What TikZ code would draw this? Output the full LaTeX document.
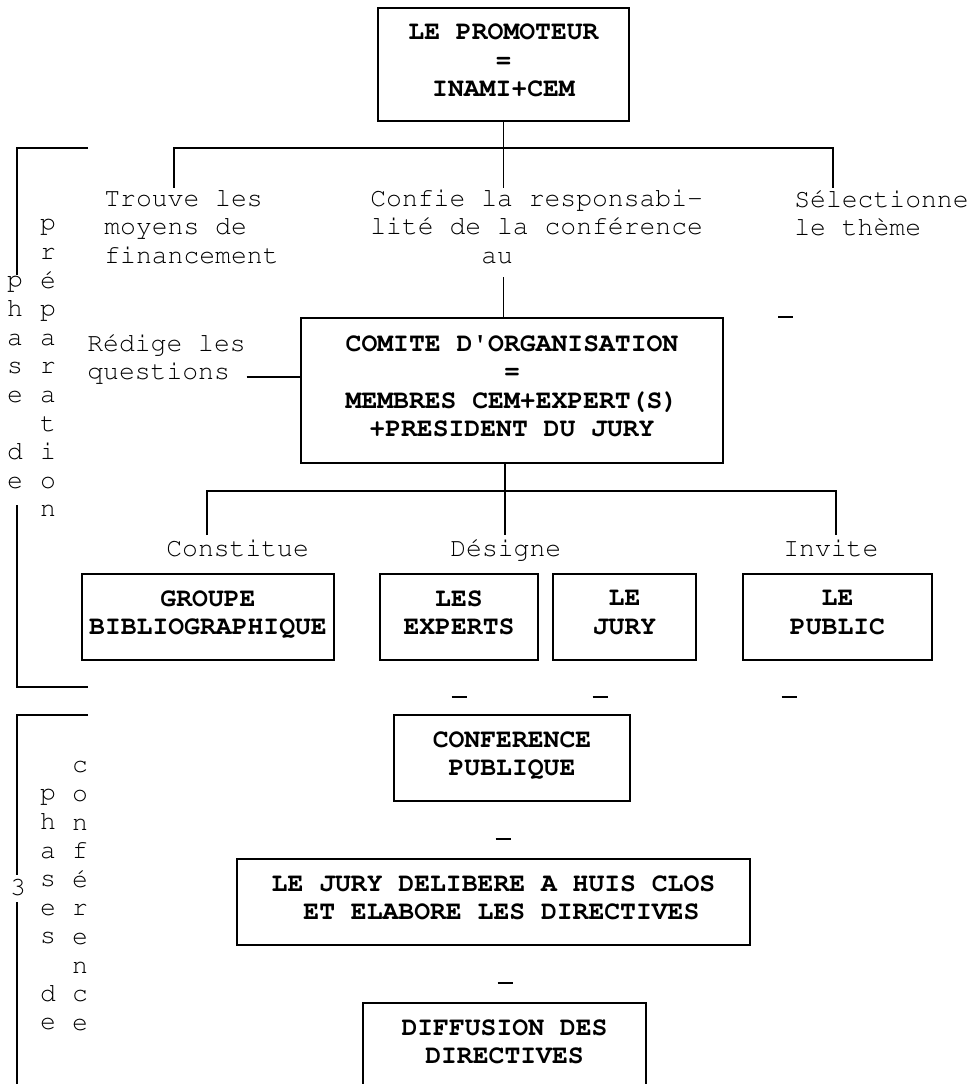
\documentclass[tikz,border=0pt]{standalone}
\usepackage[T1]{fontenc}
\usepackage{courier}
\newcommand{\machine}{\ttfamily\fontsize{19.8}{21.45}\selectfont}

\begin{document}
\begin{tikzpicture}[x=0.75pt,y=0.75pt,line width=1.3pt]
\tikzstyle{every node}+=[inner sep=0pt, font=\machine]
\tikzstyle{boite}=[draw, align=center, font=\machine\bfseries, execute at begin node=\rule{0pt}{20.5pt}, execute at end node=\strut]
\tikzstyle{texte}=[align=left, anchor=north west, execute at begin node=\strut]
\tikzstyle{lettres}=[align=center, anchor=north, execute at begin node=\strut]
\useasboundingbox (0,0) rectangle (969,-1084);
\clip (0,0) rectangle (969,-1084);
\node [boite, minimum width=0.75*251, minimum height=0.75*113] (promoteur) at (503.5,-64.5) {LE PROMOTEUR\\=\\INAMI+CEM};
\node [boite, minimum width=0.75*422, minimum height=0.75*145] (comite) at (512,-390.5) {COMITE D\textquotesingle ORGANISATION\\=\\MEMBRES CEM+EXPERT(S)\\+PRESIDENT DU JURY};
\node [boite, minimum width=0.75*252, minimum height=0.75*86] (groupe) at (208,-617) {GROUPE\\BIBLIOGRAPHIQUE};
\node [boite, minimum width=0.75*158, minimum height=0.75*86] (experts) at (459,-617) {LES\\EXPERTS};
\node [boite, minimum width=0.75*143, minimum height=0.75*86] (jury) at (624.5,-617) {LE\\JURY};
\node [boite, minimum width=0.75*189, minimum height=0.75*86] (public) at (837.5,-617) {LE\\PUBLIC};
\node [boite, minimum width=0.75*236, minimum height=0.75*86] (conference) at (512,-758) {CONFERENCE\\PUBLIQUE};
\node [boite, minimum width=0.75*513, minimum height=0.75*86] (deliberation) at (493.5,-902) {LE JURY DELIBERE A HUIS CLOS\\~ET ELABORE LES DIRECTIVES};
\node [boite, minimum width=0.75*283, minimum height=0.75*86] (diffusion) at (504.5,-1046) {DIFFUSION DES\\DIRECTIVES};
\node [texte] (trouve) at (103.5,-188.6) {Trouve les\\moyens de\\financement};
\node [texte] (confie) at (369.5,-188.6) {Confie la responsabi-\\lité de la conférence\\\phantom{Confie }au};
\node [texte] (theme) at (793.5,-188.6) {Sélectionne\\le thème};
\node [texte] (redige) at (86.5,-332.6) {Rédige les\\questions};
\node [texte] (constitue) at (165.5,-535.6) {Constitue};
\node [texte] (designe) at (449.5,-535.6) {Désigne};
\node [texte] (invite) at (782.5,-535.6) {Invite};
\node [lettres] (phase) at (15,-275.6) {p\\h\\a\\s\\e\\~\\d\\e};
\node [lettres] (preparation) at (48,-218.6) {p\\r\\é\\p\\a\\r\\a\\t\\i\\o\\n};
\node [lettres] (phases) at (48,-788.6) {p\\h\\a\\s\\e\\s\\~\\d\\e};
\node [lettres] (conf) at (80,-760.6) {c\\o\\n\\f\\é\\r\\e\\n\\c\\e};
\node [anchor=base] (trois) at (18,-895.5) {3};
\coordinate (brancheA) at (0,-148);
\coordinate (piedTrouve) at (174,-188);
\coordinate (piedConfie) at (503.5,-188);
\coordinate (piedTheme) at (833,-188);
\draw (promoteur.south) -- (piedConfie);
\draw (piedTrouve) -- (piedTrouve |- brancheA) -- (piedTheme |- brancheA) -- (piedTheme);
\coordinate (sousAu) at (503.5,-277);
\draw (sousAu) -- (sousAu |- comite.north);
\coordinate (ligneQ) at (0,-377);
\draw (redige.east |- ligneQ) -- (comite.west |- ligneQ);
\coordinate (brancheB) at (0,-491);
\coordinate (piedConstitue) at (207,-535);
\coordinate (piedDesigne) at (505,-535);
\coordinate (piedInvite) at (836,-535);
\draw (comite.south -| piedDesigne) -- (piedDesigne);
\draw (piedConstitue) -- (piedConstitue |- brancheB) -- (piedInvite |- brancheB) -- (piedInvite);
\draw (88,-148) -- (17,-148) -- (17,-275);
\draw (17,-505) -- (17,-687) -- (88,-687);
\draw (88,-715) -- (17,-715) -- (17,-875);
\draw (17,-902) -- (17,-1090);
\draw (785.5,-317) +(-7.5,0) -- +(7.5,0);
\draw (459,-697) +(-7.5,0) -- +(7.5,0);
\draw (600,-697) +(-7.5,0) -- +(7.5,0);
\draw (789,-697) +(-7.5,0) -- +(7.5,0);
\draw (503,-839) +(-7.5,0) -- +(7.5,0);
\draw (505,-983) +(-7.5,0) -- +(7.5,0);
\end{tikzpicture}
\end{document}
